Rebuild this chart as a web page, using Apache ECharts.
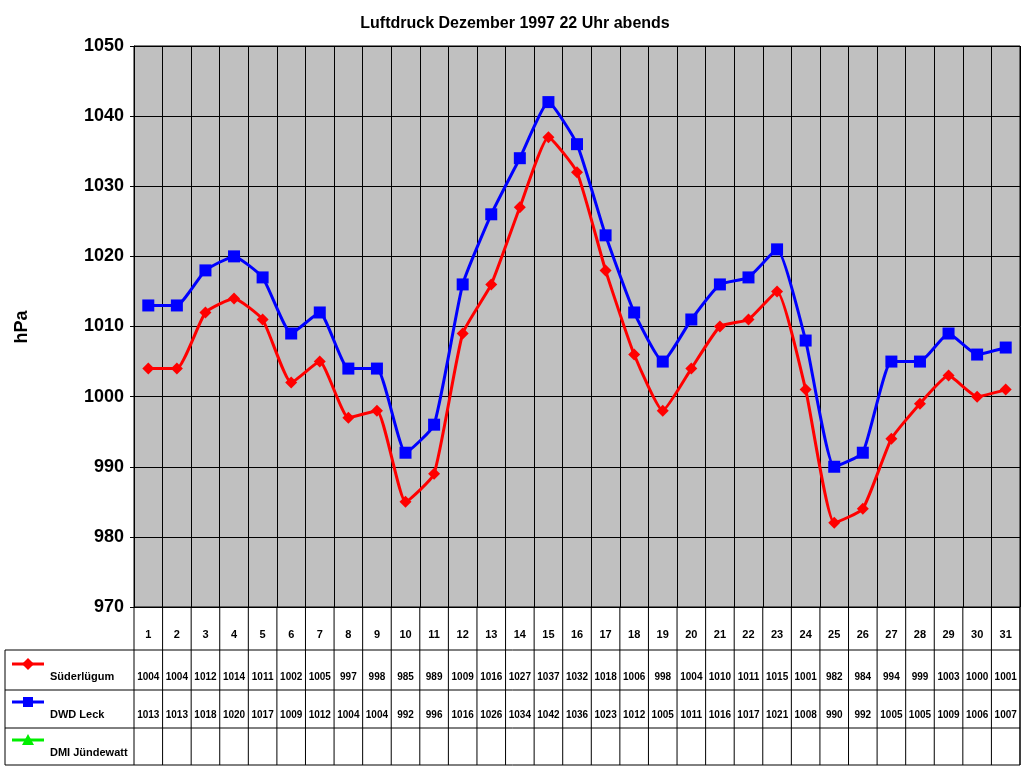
<!DOCTYPE html>
<html><head><meta charset="utf-8">
<script src="https://cdn.jsdelivr.net/npm/echarts@6/dist/echarts.min.js"></script>
<style>html,body{margin:0;padding:0;background:#fff}#c{width:1024px;height:768px}</style>
</head><body><div id="c"></div>
<script>
var days = ['1','2','3','4','5','6','7','8','9','10','11','12','13','14','15','16','17','18','19','20','21','22','23','24','25','26','27','28','29','30','31'];
var sued = [1004,1004,1012,1014,1011,1002,1005,997,998,985,989,1009,1016,1027,1037,1032,1018,1006,998,1004,1010,1011,1015,1001,982,984,994,999,1003,1000,1001];
var dwd = [1013,1013,1018,1020,1017,1009,1012,1004,1004,992,996,1016,1026,1034,1042,1036,1023,1012,1005,1011,1016,1017,1021,1008,990,992,1005,1005,1009,1006,1007];
var dmi = [];
var names = ['Süderlügum','DWD Leck','DMI Jündewatt'];
var colors = ['#ff0000','#0000ff','#00ee00'];

var L=134,R=1020,T=46,B=607;
var cw=(R-L)/days.length;
var rows=[607,650,690,728,765];
var g=[];
var ln={stroke:'#000',lineWidth:1};
for(var r=1;r<rows.length;r++) g.push({type:'line',shape:{x1:5,y1:rows[r],x2:R,y2:rows[r]},style:ln});
g.push({type:'line',shape:{x1:5,y1:rows[1],x2:5,y2:rows[4]},style:ln});
g.push({type:'line',shape:{x1:R,y1:B,x2:R,y2:rows[4]},style:ln});
for(var i=0;i<=days.length;i++){
  var x=L+i*cw;
  g.push({type:'line',shape:{x1:x,y1:B,x2:x,y2:rows[4]},style:ln});
}
var vals=[sued,dwd,dmi];
for(var s=0;s<3;s++){
  var y=rows[s+1]+(s==0?24:22);
  g.push({type:'line',shape:{x1:12,y1:y-10,x2:44,y2:y-10},style:{stroke:colors[s],lineWidth:3}});
  if(s==0) g.push({type:'polygon',shape:{points:[[28,y-16],[34,y-10],[28,y-4],[22,y-10]]},style:{fill:colors[s]}});
  else if(s==1) g.push({type:'rect',shape:{x:23,y:y-15,width:10,height:10},style:{fill:colors[s]}});
  else g.push({type:'polygon',shape:{points:[[28,y-16],[34,y-5],[22,y-5]]},style:{fill:colors[s]}});
  g.push({type:'text',x:50,y:y+3,style:{text:names[s],font:'bold 11px Arial, "Liberation Sans"',fill:'#000',textVerticalAlign:'middle'}});
  for(var i=0;i<vals[s].length;i++){
    g.push({type:'text',x:L+(i+0.5)*cw,y:y+3,style:{text:String(vals[s][i]),font:'bold 10px Arial, "Liberation Sans"',fill:'#000',textAlign:'center',textVerticalAlign:'middle'}});
  }
}
for(var i=0;i<days.length;i++){
  g.push({type:'text',x:L+(i+0.5)*cw,y:635,style:{text:days[i],font:'bold 11px Arial, "Liberation Sans"',fill:'#000',textAlign:'center',textVerticalAlign:'middle'}});
}
g.push({type:'text',x:22,y:327,rotation:Math.PI/2,style:{text:'hPa',font:'bold 18px Arial, "Liberation Sans"',fill:'#000',textAlign:'center',textVerticalAlign:'middle'}});

var chart=echarts.init(document.getElementById('c'));
chart.setOption({
  animation:false,
  backgroundColor:'#fff',
  title:{text:'Luftdruck Dezember 1997 22 Uhr abends',left:510,top:11,textAlign:'center',textStyle:{fontFamily:'Arial, Liberation Sans',fontSize:16,fontWeight:'bold',color:'#000'}},
  grid:{left:L,right:1024-R,top:T,bottom:768-B,show:true,backgroundColor:'#c0c0c0',borderColor:'#000',borderWidth:1},
  xAxis:{type:'category',data:days,boundaryGap:true,axisLabel:{show:false},axisTick:{show:false},axisLine:{show:false},
    splitLine:{show:true,lineStyle:{color:'#000',width:1}}},
  yAxis:{type:'value',min:970,max:1050,interval:10,axisLine:{show:true,lineStyle:{color:'#000'}},axisTick:{show:true,length:4},
    axisLabel:{formatter:function(v){return String(v);},fontFamily:'Arial, Liberation Sans',fontSize:18,fontWeight:'bold',color:'#000',margin:10},
    splitLine:{lineStyle:{color:'#000',width:1}}},
  series:[
    {name:names[0],type:'line',data:sued,symbol:'diamond',symbolSize:12,itemStyle:{color:colors[0]},lineStyle:{width:3,color:colors[0]},smooth:0.15},
    {name:names[1],type:'line',data:dwd,symbol:'rect',symbolSize:12,itemStyle:{color:colors[1]},lineStyle:{width:3,color:colors[1]},smooth:0.15},
    {name:names[2],type:'line',data:dmi,symbol:'triangle',itemStyle:{color:colors[2]}}
  ],
  graphic:g
});
</script></body></html>
